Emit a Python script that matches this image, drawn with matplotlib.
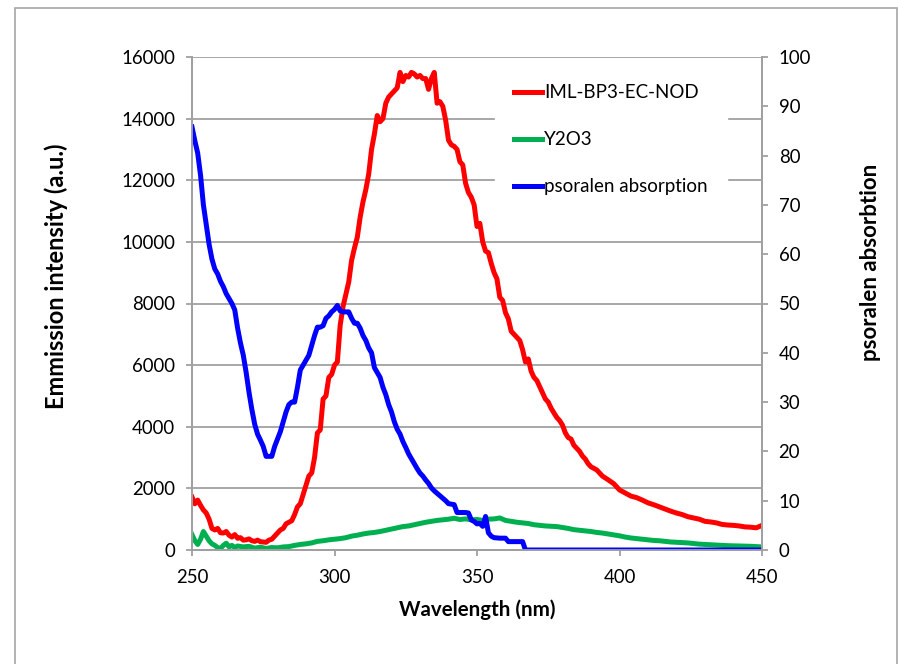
import matplotlib.pyplot as plt
from matplotlib.patches import Rectangle

plt.rcParams['font.family'] = ['Lato', 'DejaVu Sans']

# IML-BP3-EC-NOD emission (left axis)
red_nm = list(range(250, 391)) + list(range(392, 452, 2))
red_val = [1720, 1500, 1620, 1450, 1300, 1200, 1000, 700, 650, 700,
           560, 550, 600, 480, 420, 500, 380, 400, 320, 330,
           360, 300, 280, 320, 270, 260, 250, 320, 350, 450,
           550, 650, 700, 850, 900, 950, 1150, 1400, 1500, 1800,
           2100, 2400, 2500, 3000, 3800, 3900, 4900, 5000, 5600, 5700,
           6000, 6100, 7300, 7900, 8300, 8700, 9400, 9800, 10150, 10800,
           11300, 11700, 12200, 13000, 13500, 14100, 13900, 14000, 14500, 14700,
           14800, 14900, 15000, 15500, 15200, 15400, 15350, 15500, 15450, 15350,
           15400, 15300, 15300, 14950, 15300, 15500, 14500, 14550, 14400, 13950,
           13300, 13150, 13100, 13000, 12600, 12500, 11900, 11600, 11450, 11200,
           10500, 10600, 10000, 9700, 9650, 9300, 9000, 8800, 8200, 8100,
           7700, 7500, 7100, 7000, 6900, 6800, 6500, 6100, 6200, 5800,
           5600, 5500, 5300, 5100, 4900, 4800, 4600, 4450, 4300, 4200,
           4050, 3800, 3650, 3600, 3400, 3300, 3200, 3050, 2950, 2800,
           2700,
           2600, 2400, 2280, 2150, 1950, 1850, 1750, 1700, 1620, 1530,
           1470, 1400, 1330, 1260, 1200, 1150, 1080, 1040, 1000, 930,
           910, 880, 830, 810, 800, 780, 750, 740, 720, 800]

# Y2O3 emission (left axis)
green_nm = [250, 251, 252, 253, 254, 255, 256, 257, 258, 259, 260, 261, 262, 263, 264, 265,
            266] + list(range(268, 452, 2))
green_val = [500, 300, 180, 350, 600, 450, 300, 200, 150, 80, 50, 150, 220, 100, 150, 80,
             130, 100, 120, 60, 90, 50, 80, 70, 100, 110, 150, 180, 200, 230, 280,
             300, 330, 350, 370, 400, 450, 480, 520, 550, 570, 600, 640, 680, 720,
             760, 780, 820, 860, 900, 930, 960, 980, 1000, 1030, 990, 1010, 980, 990,
             960, 1000, 1010, 1040, 960, 930, 900, 880, 860, 820, 800, 780, 770, 760,
             730, 700, 660, 640, 620, 600, 570, 550, 520, 490, 460, 420, 390, 370,
             350, 330, 310, 300, 280, 260, 250, 240, 230, 210, 190, 180, 170, 160,
             150, 140, 135, 130, 125, 120, 110, 100]

# psoralen absorption (right axis)
blue_nm = list(range(250, 357)) + [358, 360, 361, 364, 366, 367, 450]
blue_val = [85.8, 83, 80.5, 76, 70, 66, 62, 59, 57, 56,
            54.5, 53.4, 52, 51, 50, 48.7, 45, 42, 39.5, 36,
            32, 28.5, 25.5, 23.5, 22.3, 21, 19, 19, 19, 21,
            22.5, 24, 26, 28, 29.5, 30, 30, 33, 36.5, 37.5,
            38.5, 39.5, 41.5, 43.5, 45.2, 45.2, 45.5, 47, 47.5, 48.3,
            48.8, 49.6, 48.5, 48.3, 48.3, 48.3, 47, 46, 46, 45,
            43.5, 42.5, 41, 40, 37, 36, 35, 33, 31.5, 29.5,
            28, 26, 24.5, 23.5, 22, 20.8, 19.5, 18.5, 17.5, 16.5,
            15.6, 15, 14.2, 13.5, 12.6, 12, 11.5, 11, 10.5, 10,
            9.4, 9.3, 9.2, 7.6, 7.6, 7.6, 7.6, 7.5, 6.1, 5.8,
            5.3, 5.4, 4.8, 6.8, 3.5, 2.8, 2.5,
            2.4, 2.4, 1.7, 1.7, 1.7, 0, 0]

fig = plt.figure(figsize=(8.98, 6.64), dpi=100)
fig.patches.append(Rectangle((15 / 898, -0.01), 882 / 898, 1 - 8 / 664 + 0.01,
                             transform=fig.transFigure, fill=False,
                             edgecolor='#a6a6a6', linewidth=1.2))
ax = fig.add_axes([192 / 898, 1 - 550 / 664, 570 / 898, 493 / 664])
ax2 = ax.twinx()

l1, = ax.plot(red_nm, red_val, color='#ff0000', lw=3.6, label='IML-BP3-EC-NOD')
l2, = ax.plot(green_nm, green_val, color='#00b050', lw=3.6, label='Y2O3')
l3, = ax2.plot(blue_nm, blue_val, color='#0000ff', lw=3.6, label='psoralen absorption')

ax.set_xlim(250, 450)
ax.set_ylim(0, 16000)
ax2.set_ylim(0, 100)
ax.set_xticks(range(250, 451, 50))
ax.set_yticks(range(0, 16001, 2000))
ax2.set_yticks(range(0, 101, 10))

ax.grid(axis='y', color='#a0a0a0', lw=1.3)
ax.set_axisbelow(True)
for a in (ax, ax2):
    for s in a.spines.values():
        s.set_color('#a0a0a0')
        s.set_linewidth(1.3)
    a.spines['top'].set_visible(False)
    a.tick_params(labelsize=13.4, color='#a0a0a0', width=1.3, length=4)
ax.tick_params(axis='x', pad=10)
ax.tick_params(axis='y', pad=8)
ax2.tick_params(axis='y', pad=8)

ax.set_xlabel('Wavelength (nm)', fontsize=14.8, fontweight='bold')
ax.set_ylabel('Emmission intensity (a.u.)', fontsize=17, fontweight='bold')
ax2.set_ylabel('psoralen absorbtion', fontsize=16, fontweight='bold')
ax.xaxis.set_label_coords(0.501, -0.10)
ax.yaxis.set_label_coords(-0.218, 0.555)
ax2.yaxis.set_label_coords(1.172, 0.584)

leg = ax2.legend(handles=[l1, l2, l3], loc='upper left', fontsize=13.5,
                 bbox_to_anchor=(486 / 898, 1 - 56 / 664), bbox_transform=fig.transFigure,
                 handlelength=1.5, handletextpad=0.1, labelspacing=1.6, borderpad=1.0,
                 fancybox=False, framealpha=1, facecolor='white', edgecolor='white')

fig.savefig('out.png', dpi=100)
